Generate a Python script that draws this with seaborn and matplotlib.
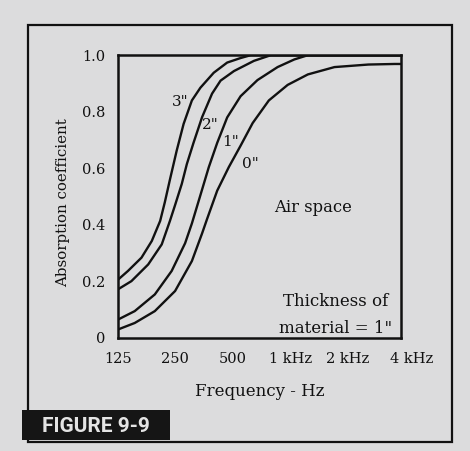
import matplotlib
matplotlib.use("Agg")
import matplotlib.pyplot as plt
import matplotlib.patches as patches
import matplotlib.transforms as mtransforms
import seaborn as sns
import pandas as pd

# values (frequency in Hz, absorption coefficient)
freq_3in = [125, 141, 166, 188, 208, 220, 234, 254, 276, 305, 338, 397, 467, 549, 620, 3800]
abs_3in = [0.206, 0.237, 0.284, 0.343, 0.414, 0.48, 0.56, 0.663, 0.757, 0.84,
           0.885, 0.938, 0.974, 0.99, 1.0, 1.0]

freq_2in = [125, 147, 180, 212, 234, 249, 270, 287, 311, 345, 389, 431, 507, 645, 790, 3800]
abs_2in = [0.172, 0.201, 0.26, 0.331, 0.414, 0.47, 0.545, 0.615, 0.69, 0.781,
           0.864, 0.91, 0.944, 0.98, 1.0, 1.0]

freq_1in = [125, 153, 195, 239, 281, 305, 338, 374, 414, 467, 549, 673, 858, 1050, 1236, 3800]
abs_1in = [0.065, 0.095, 0.154, 0.237, 0.335, 0.405, 0.505, 0.604, 0.69, 0.78,
           0.855, 0.912, 0.958, 0.985, 1.0, 1.0]

freq_0in = [125, 153, 195, 249, 305, 345, 366, 414, 476, 549, 635, 772, 969,
            1236, 1705, 2567, 3531, 3800]
abs_0in = [0.03, 0.053, 0.095, 0.166, 0.272, 0.37, 0.42, 0.521, 0.604, 0.68,
           0.76, 0.84, 0.895, 0.932, 0.958, 0.967, 0.969, 0.969]

curve_labels = ['3"', '2"', '1"', '0"']
x_ticks = [125, 250, 500, 1000, 2000]
x_tick_labels = ["125", "250", "500", "1 kHz", "2 kHz"]
y_ticks = [0, 0.2, 0.4, 0.6, 0.8, 1.0]
y_tick_labels = ["0", "0.2", "0.4", "0.6", "0.8", "1.0"]

frames = []
for lab, f, a in zip(curve_labels,
                     [freq_3in, freq_2in, freq_1in, freq_0in],
                     [abs_3in, abs_2in, abs_1in, abs_0in]):
    frames.append(pd.DataFrame({"freq": f, "absorb": a, "air": lab}))
df = pd.concat(frames, ignore_index=True)

sns.set_style("white")
plt.rcParams["font.family"] = ["DejaVu Serif"]
paper = "#dcdcdd"
ink = "#111111"

fig = plt.figure(figsize=(4.70, 4.51), dpi=100, facecolor=paper)
ax = fig.add_axes([0.251, 0.2506, 0.602, 0.627])
ax.set_facecolor(paper)

sns.lineplot(data=df, x="freq", y="absorb", units="air", estimator=None,
             color=ink, linewidth=1.7, ax=ax, legend=False, sort=False)

ax.set_xscale("log")
ax.set_xlim(125, 3800)
ax.set_ylim(0, 1.0)
ax.set_xticks(x_ticks)
ax.set_xticklabels(x_tick_labels)
ax.xaxis.set_minor_locator(matplotlib.ticker.NullLocator())
ax.set_yticks(y_ticks)
ax.set_yticklabels(y_tick_labels)
ax.set_yticks([0.1, 0.3, 0.5, 0.7, 0.9], minor=True)
ax.tick_params(axis="both", which="both", direction="in", length=6, width=1.3,
               labelsize=10.5, colors=ink)
ax.tick_params(axis="x", pad=10)
ax.tick_params(axis="y", pad=9)
for s in ax.spines.values():
    s.set_visible(True)
    s.set_linewidth(1.8)
    s.set_color(ink)

# last tick label sits just past the right edge
trans = mtransforms.blended_transform_factory(ax.transData, ax.transAxes)
ax.text(4300, -0.049, "4 kHz", transform=trans, ha="center", va="top",
        fontsize=10.5, color=ink, clip_on=False)

ax.set_xlabel("Frequency - Hz", fontsize=12, color=ink, labelpad=12)
ax.set_ylabel("Absorption coefficient", fontsize=10.8, color=ink)
ax.yaxis.set_label_coords(-0.17, 0.477)

# curve labels
ax.text(265, 0.835, '3"', fontsize=11, ha="center", va="center", color=ink)
ax.text(381, 0.752, '2"', fontsize=11, ha="center", va="center", color=ink)
ax.text(487, 0.692, '1"', fontsize=11, ha="center", va="center", color=ink)
ax.text(620, 0.615, '0"', fontsize=11, ha="center", va="center", color=ink)
ax.text(824, 0.462, "Air space", fontsize=11.8, ha="left", va="center", color=ink)
ax.text(1730, 0.13, "Thickness of", fontsize=12, ha="center", va="center", color=ink)
ax.text(1730, 0.035, 'material = 1"', fontsize=12, ha="center", va="center", color=ink)

# outer frame and figure tag
fig.patches.append(patches.Rectangle((28 / 470, 9 / 451), 424 / 470, 417 / 451,
                                     transform=fig.transFigure, fill=False,
                                     edgecolor=ink, linewidth=1.6))
fig.patches.append(patches.Rectangle((22 / 470, 11 / 451), 148 / 470, 30 / 451,
                                     transform=fig.transFigure, facecolor="#151515",
                                     edgecolor="none"))
fig.text(96 / 470, 25 / 451, "FIGURE 9-9", color="#e4e4e4", fontsize=15,
         fontweight="bold", family=["Roboto", "DejaVu Sans"],
         ha="center", va="center")

fig.savefig("out.png", dpi=100, facecolor=paper)
